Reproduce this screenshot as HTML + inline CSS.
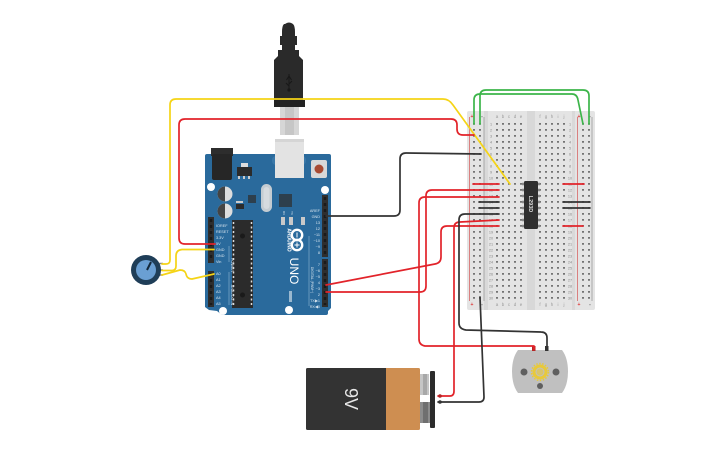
<!DOCTYPE html>
<html><head><meta charset="utf-8"><style>
html,body{margin:0;padding:0;background:#fff;width:725px;height:453px;overflow:hidden}
svg{display:block;font-family:"Liberation Sans",sans-serif}
</style></head><body>
<svg width="725" height="453" viewBox="0 0 725 453" xmlns="http://www.w3.org/2000/svg">
<!-- USB cable -->
<path d="M285 24q4-3 8 0q2 2 2 8v4h2v9h-2v5h4v6l4 4v46h-29V60l4-4v-6h4v-5h-2v-9h2v-4q0-6 2-8z" fill="#2a2a2a"/>
<rect x="274" y="100" width="31" height="7" fill="#222"/>
<rect x="280" y="107" width="19" height="28" fill="#d6d6d6"/><rect x="285" y="107" width="9" height="28" fill="#c6c6c6"/>
<path d="M289 74v16M286.500 80l2.500-4 2.500 4M289 84l3-3M289 86l-3-3" stroke="#181818" stroke-width="1" fill="none"/>
<circle cx="289" cy="90" r="1.600" fill="#181818"/>
<!-- Arduino -->
<path d="M207 154H329q2 0 2 2V308l-3 3V313q0 2-2 2H222l-5-4-8-1-4-3V156q0-2 2-2z" fill="#2a6a9c"/>
<rect x="272" y="156" width="34" height="9" rx="4" fill="#3a78a8"/>
<rect x="275" y="139" width="29" height="39" fill="#e3e3e3"/><rect x="275" y="139" width="29" height="3" fill="#d5d5d5"/>
<rect x="211" y="148" width="22" height="8" fill="#2d2d2d"/><rect x="212" y="154" width="20" height="26" rx="2" fill="#262626"/>
<rect x="237" y="167" width="15" height="9" fill="#2b2b2b"/><rect x="241" y="163" width="7" height="4" fill="#ddd"/><rect x="238" y="176" width="2" height="3" fill="#ccc"/><rect x="243" y="176" width="2" height="3" fill="#ccc"/><rect x="248" y="176" width="2" height="3" fill="#ccc"/>
<rect x="311" y="160" width="16" height="18" rx="2" fill="#d8d8d8"/><circle cx="319" cy="169" r="4.500" fill="#a84a32"/>
<circle cx="211" cy="187" r="4" fill="#fff"/><circle cx="325" cy="190" r="4" fill="#fff"/><circle cx="223" cy="311" r="4" fill="#fff"/><circle cx="289" cy="310" r="4" fill="#fff"/>
<circle cx="225" cy="194" r="7.500" fill="#ddd"/><path d="M225 186.500a7.500 7.500 0 0 0 0 15z" fill="#444"/>
<circle cx="225" cy="211" r="7.500" fill="#ddd"/><path d="M225 203.500a7.500 7.500 0 0 0 0 15z" fill="#444"/>
<rect x="236" y="204" width="8" height="5" fill="#2b2b2b"/><rect x="236" y="201" width="7" height="2" fill="#ccc"/>
<rect x="248" y="195" width="8" height="8" fill="#2d3f4d"/>
<rect x="261" y="184" width="11" height="28" rx="5.500" fill="#c4ccd2"/><rect x="263.500" y="187" width="6" height="22" rx="3" fill="#d6dbdf"/>
<rect x="279" y="194" width="13" height="13" fill="#2d3f4d"/>
<rect x="281" y="217" width="4" height="8" fill="#c9c9c9"/><rect x="289" y="217" width="4" height="8" fill="#c9c9c9"/><rect x="301" y="217" width="4" height="8" fill="#c9c9c9"/>
<rect x="232" y="220" width="21" height="88" fill="#2b2b2b"/>
<path d="M233.500 222V306M251.500 222V306" stroke="#ddd" stroke-width="1.500" stroke-dasharray="2 2.500"/>
<circle cx="242.500" cy="236" r="2.500" fill="#1a1a1a"/><circle cx="242.500" cy="295" r="2.500" fill="#1a1a1a"/>
<g fill="#2e2e2e"><rect x="322" y="195" width="6" height="62"/><rect x="322" y="259" width="6" height="48"/><rect x="208" y="217" width="6" height="46"/><rect x="208" y="271" width="6" height="36"/></g>
<path d="M325 197V255M325 261V305M211 219V261M211 273V305" stroke="#1a1a1a" stroke-width="2.500" stroke-dasharray="3 3"/>
<g fill="#d7e4ee" font-size="3.800">
<text x="216" y="227">IOREF</text><text x="216" y="233">RESET</text><text x="216" y="239">3.3V</text><text x="216" y="245">5V</text><text x="216" y="251">GND</text><text x="216" y="257">GND</text><text x="216" y="263">Vin</text>
<text x="216" y="275">A0</text><text x="216" y="281">A1</text><text x="216" y="287">A2</text><text x="216" y="293">A3</text><text x="216" y="299">A4</text><text x="216" y="305">A5</text>
<g text-anchor="end"><text x="320" y="212">AREF</text><text x="320" y="218">GND</text><text x="320" y="224">13</text><text x="320" y="230">12</text><text x="320" y="236">~11</text><text x="320" y="242">~10</text><text x="320" y="248">~9</text><text x="320" y="254">8</text><text x="320" y="266">7</text><text x="320" y="272">~6</text><text x="320" y="278">~5</text><text x="320" y="284">4</text><text x="320" y="290">~3</text><text x="320" y="296">2</text><text x="320" y="302">TX&#9654;1</text><text x="320" y="308">RX&#9664;0</text></g>
<text transform="translate(231 265) rotate(90)" text-anchor="middle">POWER</text><text transform="translate(231 295) rotate(90)" text-anchor="middle">ANALOG IN</text>
<text transform="translate(311 280) rotate(90)" text-anchor="middle" font-size="3.400">DIGITAL (PWM~)</text>
<text transform="translate(283 213) rotate(90)" text-anchor="middle" font-size="3">RX</text><text transform="translate(291 213) rotate(90)" text-anchor="middle" font-size="3">TX</text>
</g>
<path d="M229 246V262M229 272V305M309 236V306" stroke="#8fb6d3" stroke-width=".6" fill="none"/>
<g fill="none" stroke="#fff" stroke-width="2.400"><circle cx="297" cy="235" r="5.200"/><circle cx="297" cy="245" r="5.200"/></g>
<path d="M297 232.500v5M294.500 245h5M297 242.500v5" stroke="#fff" stroke-width="1"/>
<text transform="translate(287.500 240) rotate(90)" text-anchor="middle" fill="#fff" font-size="5" font-weight="bold">ARDUINO</text>
<text transform="translate(290 271) rotate(90)" text-anchor="middle" fill="#fff" font-size="12">UNO</text>
<rect x="289" y="291" width="3" height="11" fill="#9ab8cf"/>
<!-- Breadboard -->
<rect x="467" y="111" width="128" height="199" rx="2" fill="#e4e4e4"/>
<rect x="484" y="111" width="4" height="199" fill="#d9d9d9"/><rect x="527" y="111" width="8" height="199" fill="#d8d8d8"/><rect x="572" y="111" width="3" height="199" fill="#d9d9d9"/>
<path d="M469.500 117V301M577.500 117V301" stroke="#d98080" stroke-width="1"/><path d="M484 117V301M592 117V301" stroke="#a8a8a8" stroke-width="1"/>
<g stroke="#606060" stroke-width="1.700" stroke-dasharray="1.700 4.300" fill="none">
<path d="M474 123V300M480 123V300M583 123V300M589 123V300"/>
<path d="M497 123V300M503 123V300M509 123V300M515 123V300M521 123V300M540 123V300M546 123V300M552 123V300M558 123V300M564 123V300"/>
</g>
<g font-size="4.500" fill="#999" text-anchor="middle">
<text x="497" y="118">a</text><text x="503" y="118">b</text><text x="509" y="118">c</text><text x="515" y="118">d</text><text x="521" y="118">e</text><text x="540" y="118">f</text><text x="546" y="118">g</text><text x="552" y="118">h</text><text x="558" y="118">i</text><text x="564" y="118">j</text>
<text x="497" y="306">a</text><text x="503" y="306">b</text><text x="509" y="306">c</text><text x="515" y="306">d</text><text x="521" y="306">e</text><text x="540" y="306">f</text><text x="546" y="306">g</text><text x="552" y="306">h</text><text x="558" y="306">i</text><text x="564" y="306">j</text>
</g>
<g font-size="5" text-anchor="middle" font-weight="bold"><text x="472" y="306" fill="#d33">+</text><text x="482" y="306" fill="#555">-</text><text x="579" y="306" fill="#d33">+</text><text x="590" y="306" fill="#555">-</text><text x="472" y="118" fill="#d33">+</text><text x="482" y="118" fill="#555">-</text><text x="579" y="118" fill="#d33">+</text><text x="590" y="118" fill="#555">-</text></g>
<g font-size="3.800" fill="#888" text-anchor="middle">
<text x="491" y="125.500">1</text><text x="491" y="131.500">2</text><text x="491" y="137.500">3</text><text x="491" y="143.500">4</text><text x="491" y="149.500">5</text><text x="491" y="155.500">6</text><text x="491" y="161.500">7</text><text x="491" y="167.500">8</text><text x="491" y="173.500">9</text><text x="491" y="179.500">10</text><text x="491" y="185.500">11</text><text x="491" y="191.500">12</text><text x="491" y="197.500">13</text><text x="491" y="203.500">14</text><text x="491" y="209.500">15</text><text x="491" y="215.500">16</text><text x="491" y="221.500">17</text><text x="491" y="227.500">18</text><text x="491" y="233.500">19</text><text x="491" y="239.500">20</text><text x="491" y="245.500">21</text><text x="491" y="251.500">22</text><text x="491" y="257.500">23</text><text x="491" y="263.500">24</text><text x="491" y="269.500">25</text><text x="491" y="275.500">26</text><text x="491" y="281.500">27</text><text x="491" y="287.500">28</text><text x="491" y="293.500">29</text><text x="491" y="299.500">30</text>
<text x="570" y="125.500">1</text><text x="570" y="131.500">2</text><text x="570" y="137.500">3</text><text x="570" y="143.500">4</text><text x="570" y="149.500">5</text><text x="570" y="155.500">6</text><text x="570" y="161.500">7</text><text x="570" y="167.500">8</text><text x="570" y="173.500">9</text><text x="570" y="179.500">10</text><text x="570" y="185.500">11</text><text x="570" y="191.500">12</text><text x="570" y="197.500">13</text><text x="570" y="203.500">14</text><text x="570" y="209.500">15</text><text x="570" y="215.500">16</text><text x="570" y="221.500">17</text><text x="570" y="227.500">18</text><text x="570" y="233.500">19</text><text x="570" y="239.500">20</text><text x="570" y="245.500">21</text><text x="570" y="251.500">22</text><text x="570" y="257.500">23</text><text x="570" y="263.500">24</text><text x="570" y="269.500">25</text><text x="570" y="275.500">26</text><text x="570" y="281.500">27</text><text x="570" y="287.500">28</text><text x="570" y="293.500">29</text><text x="570" y="299.500">30</text>
</g>
<!-- IC -->
<path d="M522 184h18M522 190h18M522 196h18M522 202h18M522 208h18M522 214h18M522 220h18M522 226h18" stroke="#888" stroke-width="2.500"/>
<rect x="524" y="181" width="14" height="48" rx="1.500" fill="#2e2e2e"/>
<text transform="translate(529 204) rotate(90)" text-anchor="middle" fill="#ddd" font-size="5.500" font-weight="bold">L293D</text>
<!-- Battery -->
<rect x="420" y="374" width="9" height="21" fill="#c6c6c6"/><rect x="423" y="374" width="4" height="21" fill="#a8a8a8"/>
<rect x="420" y="402" width="10" height="21" fill="#8c8c8c"/><rect x="423" y="402" width="5" height="21" fill="#6f6f6f"/>
<rect x="306" y="368" width="82" height="62" rx="1.500" fill="#333"/>
<path d="M386 368h32.500q1.500 0 1.500 1.500v59q0 1.500-1.500 1.500H386z" fill="#ce8e51"/>
<rect x="430" y="371" width="5" height="57" rx="1" fill="#2b2b2b"/>
<text transform="translate(345 399) rotate(90)" text-anchor="middle" fill="#e8e8e8" font-size="18">9V</text>
<!-- Motor -->
<path d="M518 350H562Q568 358 568 371.500Q568 385 562 393H518Q512 385 512 371.500Q512 358 518 350z" fill="#c0c0c0"/>
<circle cx="524" cy="372" r="3.500" fill="#5f5f5f"/><circle cx="556" cy="372" r="3.500" fill="#5f5f5f"/><circle cx="540" cy="386" r="3" fill="#5f5f5f"/>
<circle cx="540" cy="372" r="6" fill="none" stroke="#e8c93a" stroke-width="3"/><circle cx="540" cy="372" r="8.500" fill="none" stroke="#e8c93a" stroke-width="1.500" stroke-dasharray="1.500 1.500"/><circle cx="540" cy="372" r="3.500" fill="#d9c56a"/>
<rect x="532" y="346" width="3.500" height="5" fill="#b52525"/><rect x="545" y="346" width="3.500" height="5" fill="#333"/>
<!-- Potentiometer -->
<path d="M158 263.500h5M158 270h5M158 275h5" stroke="#888" stroke-width="1.500"/>
<circle cx="146" cy="270" r="15" fill="#1f3e58"/><circle cx="146" cy="270" r="10" fill="#6a9fd3"/>
<path d="M147 270L151 262" stroke="#14283a" stroke-width="2"/>
<!-- wires -->
<g fill="none" stroke-width="1.700" stroke-linejoin="round" stroke-linecap="round">
<path stroke="#f5d416" d="M162 264H166Q170 264 170 260V105Q170 99 176 99H443Q449 99 453 105L510 184"/>
<path stroke="#f5d416" d="M162 270.500H172Q176 270.500 176 266V256Q176 250 182 249.500H214"/>
<path stroke="#f5d416" d="M162 275L180 270Q185 270 186 274Q187 279 192 279L214 274"/>
<path stroke="#e2232a" d="M215 244H185Q179 244 179 238V125Q179 119 185 119H451Q457 119 457 125V129Q457 135 463 135H474"/>
<path stroke="#333" d="M326 216H394Q400 216 400 210V159Q400 153 406 153L481 154"/>
<path stroke="#e2232a" d="M326 285L435 264Q441 263 441 257V232Q441 226 447 226H499"/>
<path stroke="#e2232a" d="M326 292H420Q426 292 426 286V196Q426 190 432 190H499"/>
<path stroke="#e2232a" d="M534 349V346H425Q419 345 419 339V203Q419 197 425 197H499"/>
<path stroke="#e2232a" d="M438 396H450Q454 396 454 391V228Q454 222 460 222L499 220"/>
<path stroke="#333" d="M547 348V338Q547 332 541 332L466 330Q459 329 459 323V220Q459 214 465 214H499"/>
<path stroke="#333" d="M480 297L484 397Q484 402 479 402H438"/>
<path stroke="#333" d="M479 202H499M479 208H499M563 202H590M563 208H590"/>
<path stroke="#e2232a" d="M473 184H499M563 184H584M563 226H583"/>
<path stroke="#3cb54a" d="M474 124V100Q474 94 480 94H572Q577 94 578 100L583 124"/>
<path stroke="#3cb54a" d="M480 124V96Q480 90 486 90H583Q589 90 589 96V124"/>
</g>
<circle cx="440" cy="396" r="1.800" fill="#b52525"/><circle cx="440" cy="402" r="1.800" fill="#333"/>
</svg>
</body></html>
